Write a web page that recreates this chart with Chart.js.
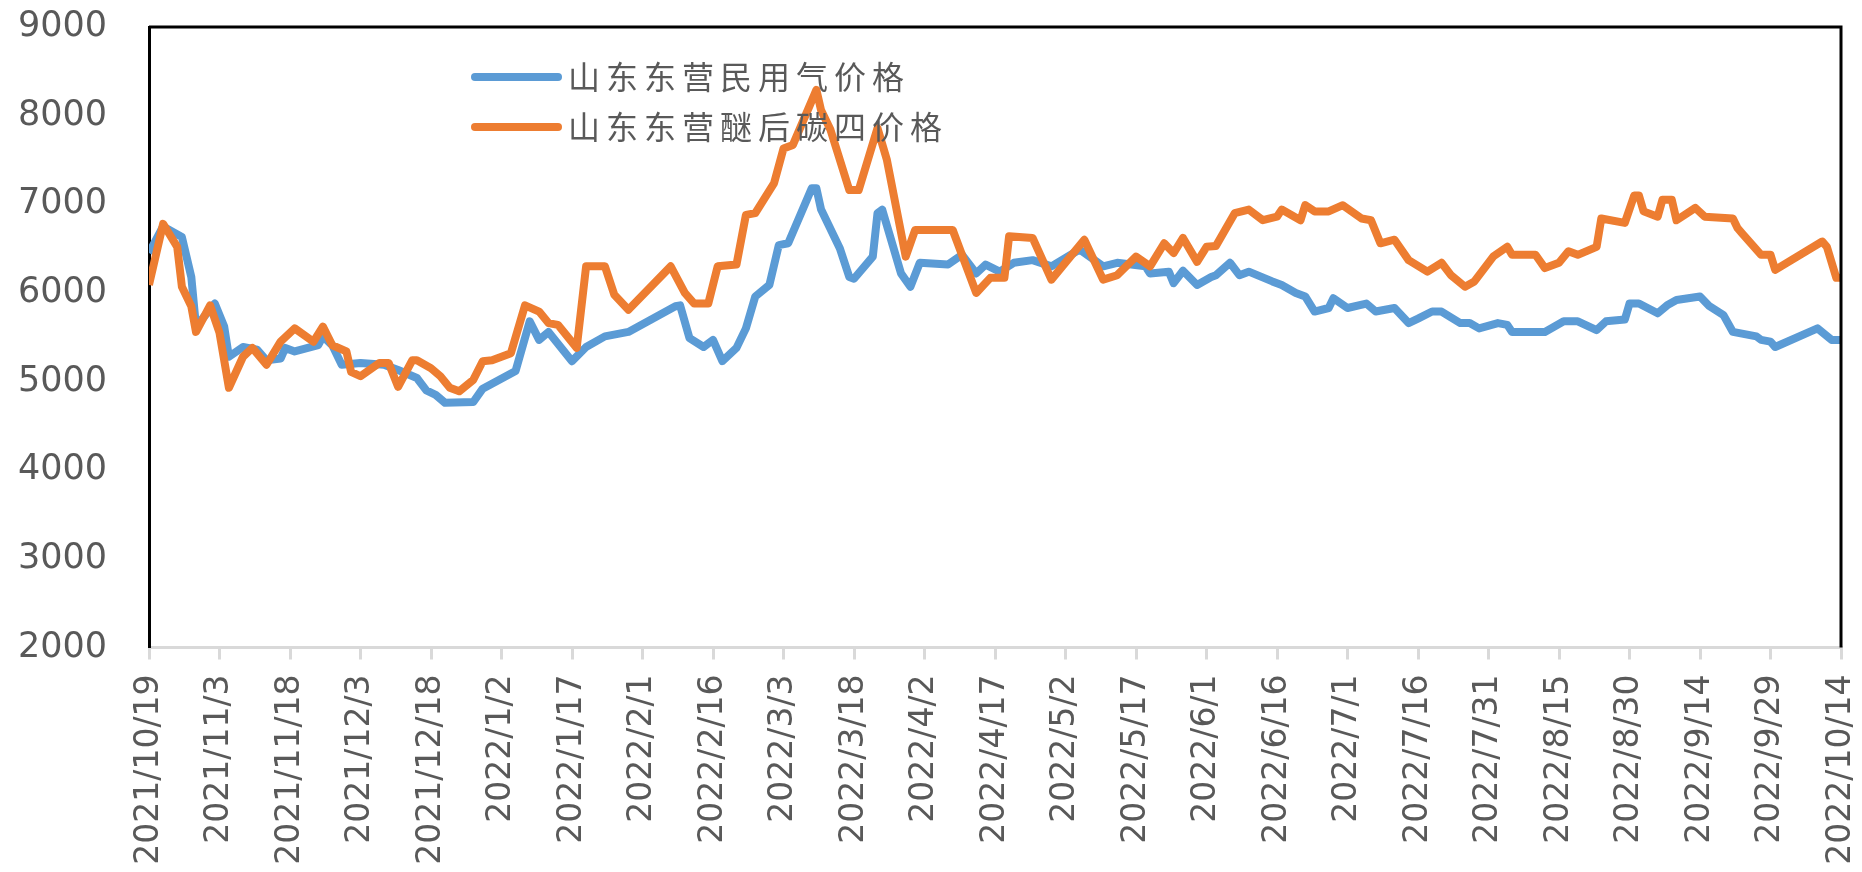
<!DOCTYPE html>
<html>
<head>
<meta charset="utf-8">
<script src="https://cdn.jsdelivr.net/npm/chart.js@4.4.1/dist/chart.umd.min.js"></script>
<style>
  html, body { margin: 0; padding: 0; background: #ffffff; }
  #wrap { width: 1862px; height: 872px; }
</style>
</head>
<body>
<div id="wrap"><canvas id="c" width="1862" height="872"></canvas></div>
<script>
// X tick labels (every 15 days, from 2021/10/19 = day 0 to 2022/10/14 = day 360)
const tickLabels = [
  '2021/10/19','2021/11/3','2021/11/18','2021/12/3','2021/12/18','2022/1/2','2022/1/17',
  '2022/2/1','2022/2/16','2022/3/3','2022/3/18','2022/4/2','2022/4/17','2022/5/2',
  '2022/5/17','2022/6/1','2022/6/16','2022/7/1','2022/7/16','2022/7/31','2022/8/15',
  '2022/8/30','2022/9/14','2022/9/29','2022/10/14'
];

const seriesNames = ['山东东营民用气价格', '山东东营醚后碳四价格'];

// 山东东营民用气价格 : day offset from 2021/10/19, price
const gasDays = [0,3,7,9,10,14,16,17,20,23,25,28,29,31,36,37,39,41,45,50,53,57,59,61,63,69,71,78,81,83,85,90,93,97,102,112,113,115,118,120,122,125,127,129,132,134,136,141,142,143,147,149,150,154,155,156,160,162,164,170,173,176,178,181,184,188,192,198,203,206,212,213,217,218,220,223,226,227,230,232,234,239,241,244,246,248,251,252,255,259,261,265,268,270,273,275,279,281,283,287,289,290,297,301,304,308,310,314,315,317,321,323,325,330,332,335,337,342,343,345,346,355,358,360];
const gasValues = [6450,6750,6630,6180,5620,5880,5620,5280,5390,5360,5240,5260,5380,5340,5410,5510,5410,5190,5210,5190,5130,5040,4900,4850,4760,4770,4920,5120,5680,5470,5560,5230,5390,5510,5560,5850,5860,5490,5390,5470,5230,5380,5600,5960,6090,6540,6560,7180,7180,6940,6500,6180,6160,6410,6900,6940,6220,6070,6340,6320,6430,6220,6320,6240,6340,6370,6300,6490,6300,6340,6300,6220,6240,6110,6250,6090,6180,6200,6340,6200,6240,6130,6090,6000,5960,5790,5830,5940,5830,5880,5790,5830,5660,5710,5790,5790,5660,5660,5600,5660,5640,5560,5560,5680,5680,5580,5680,5700,5880,5880,5770,5860,5920,5960,5850,5750,5560,5510,5470,5450,5390,5600,5470,5470];

// 山东东营醚后碳四价格 : day offset from 2021/10/19, price
const c4Days = [0,3,6,7,9,10,13,15,17,20,22,25,28,31,35,37,39,42,43,45,49,51,53,56,57,60,62,64,66,69,71,73,77,80,83,85,87,91,93,97,99,102,111,114,116,119,121,125,127,129,133,135,137,142,143,145,149,151,155,157,161,163,171,176,179,182,183,188,192,199,203,206,210,213,216,218,220,223,225,227,231,234,237,240,241,245,246,248,251,254,258,260,262,265,268,272,275,277,280,282,286,289,290,295,297,300,302,304,308,309,314,316,317,318,321,322,324,325,329,331,337,338,339,343,345,346,356,357,359,360];
const c4Values = [6090,6780,6520,6070,5850,5560,5860,5550,4930,5280,5380,5190,5450,5600,5450,5620,5410,5340,5110,5060,5210,5210,4940,5240,5240,5150,5060,4930,4890,5020,5230,5240,5320,5860,5790,5660,5640,5380,6300,6300,5980,5810,6300,6000,5880,5880,6300,6320,6880,6900,7240,7630,7670,8290,8060,7840,7160,7160,7860,7500,6410,6710,6710,6000,6170,6170,6640,6620,6150,6600,6150,6200,6410,6300,6560,6450,6620,6350,6520,6530,6900,6940,6820,6860,6940,6820,6990,6920,6920,6990,6840,6820,6560,6600,6370,6240,6340,6200,6070,6130,6410,6520,6430,6430,6280,6340,6470,6430,6520,6840,6790,7100,7100,6920,6860,7050,7050,6820,6960,6860,6840,6730,6670,6430,6430,6260,6580,6520,6170,6170];

const yTicks = [2000,3000,4000,5000,6000,7000,8000,9000];

const toPoints = (days, vals) => days.map((d, i) => ({ x: d, y: vals[i] }));

const frameAndLegend = {
  id: 'frameAndLegend',
  afterDatasetsDraw(chart) {
    const { ctx, chartArea: a } = chart;
    ctx.save();
    // top and right frame lines
    ctx.strokeStyle = '#000000';
    ctx.lineWidth = 3;
    ctx.beginPath();
    ctx.moveTo(a.left, a.top);
    ctx.lineTo(a.right, a.top);
    ctx.lineTo(a.right, a.bottom);
    ctx.stroke();
    // legend inside the plot
    const ds = chart.data.datasets;
    const lx0 = a.left + 326, lx1 = a.left + 409, tx = a.left + 419;
    const rows = [a.top + 50, a.top + 100];
    ctx.font = '32px "Noto Sans CJK SC", sans-serif';
    try { ctx.letterSpacing = '6px'; } catch (e) {}
    ctx.textBaseline = 'middle';
    ctx.textAlign = 'left';
    ds.forEach((d, i) => {
      const y = rows[i];
      ctx.strokeStyle = d.borderColor;
      ctx.lineWidth = 8;
      ctx.lineCap = 'round';
      ctx.beginPath();
      ctx.moveTo(lx0, y);
      ctx.lineTo(lx1, y);
      ctx.stroke();
      ctx.fillStyle = '#595959';
      ctx.fillText(d.label, tx, y);
    });
    ctx.restore();
  }
};

new Chart(document.getElementById('c'), {
  type: 'line',
  data: {
    datasets: [
      {
        label: seriesNames[0],
        data: toPoints(gasDays, gasValues),
        borderColor: '#5B9BD5',
        backgroundColor: '#5B9BD5',
        borderWidth: 8,
        pointRadius: 0,
        tension: 0,
        borderJoinStyle: 'round',
        order: 1
      },
      {
        label: seriesNames[1],
        data: toPoints(c4Days, c4Values),
        borderColor: '#ED7D31',
        backgroundColor: '#ED7D31',
        borderWidth: 8,
        pointRadius: 0,
        tension: 0,
        borderJoinStyle: 'round',
        order: 0
      }
    ]
  },
  options: {
    responsive: false,
    animation: false,
    devicePixelRatio: 1,
    layout: { padding: { left: 0, top: 27, right: 21, bottom: 0 } },
    plugins: {
      legend: { display: false },
      tooltip: { enabled: false }
    },
    scales: {
      x: {
        type: 'linear',
        min: 0,
        max: 360,
        afterFit(scale) {
          scale.height = 224.5;
          scale.paddingLeft = 0;
          scale.paddingRight = 0;
        },
        afterBuildTicks(scale) {
          scale.ticks = tickLabels.map((_, i) => ({ value: i * 15 }));
        },
        ticks: {
          autoSkip: false,
          maxRotation: 90,
          minRotation: 90,
          padding: 15,
          color: '#595959',
          font: { family: '"DejaVu Sans", sans-serif', size: 33 },
          callback: (v) => tickLabels[Math.round(v / 15)]
        },
        grid: {
          display: true,
          drawOnChartArea: false,
          drawTicks: true,
          tickLength: 12,
          color: '#D9D9D9',
          lineWidth: 3
        },
        border: { display: true, color: '#D9D9D9', width: 3 }
      },
      y: {
        min: 2000,
        max: 9000,
        afterFit(scale) {
          scale.width = 149;
          scale.paddingTop = 0;
          scale.paddingBottom = 0;
        },
        afterBuildTicks(scale) {
          scale.ticks = yTicks.map(v => ({ value: v }));
        },
        ticks: {
          padding: 42,
          color: '#595959',
          font: { family: '"DejaVu Sans", sans-serif', size: 35 },
          callback: (v) => String(v)
        },
        grid: { display: false, drawTicks: false },
        border: { display: true, color: '#000000', width: 3 }
      }
    }
  },
  plugins: [frameAndLegend]
});
</script>
</body>
</html>
